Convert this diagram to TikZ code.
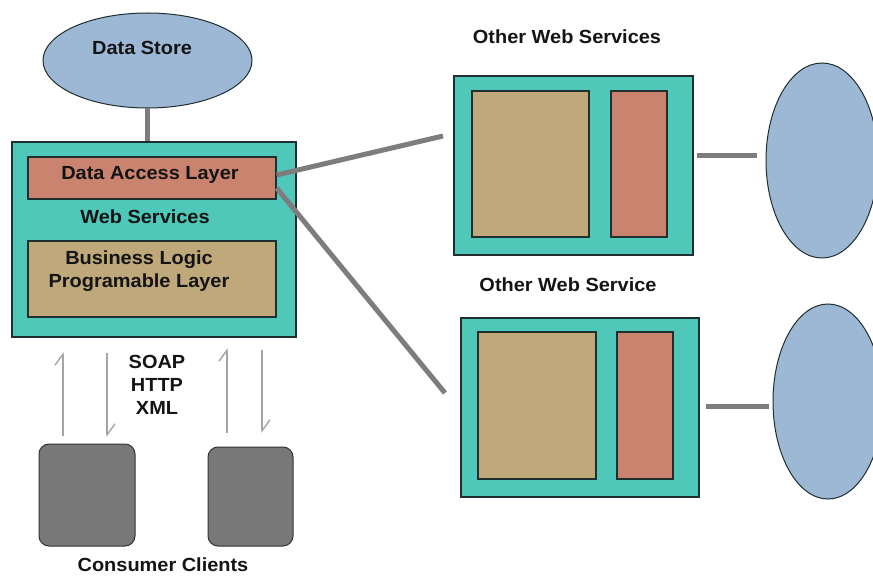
\documentclass[tikz,border=0pt]{standalone}
\usepackage{fontspec}
\newfontfamily\lblfont{Liberation Sans}[FakeStretch=1.05]
\usetikzlibrary{shapes.geometric,arrows.meta}
\definecolor{teal}{HTML}{4FC7B9}
\definecolor{tan}{HTML}{BFA97B}
\definecolor{salmon}{HTML}{C9836F}
\definecolor{skyblue}{HTML}{9CB8D5}
\definecolor{clientgray}{HTML}{787878}
\definecolor{linkgray}{HTML}{7D7D7D}
\definecolor{msggray}{HTML}{A4A4A4}
\definecolor{edge}{HTML}{1F2F2F}
\tikzset{
  txt/.style={inner sep=0pt, text=black!92, align=center,
    font=\lblfont\bfseries\fontsize{19}{23}\selectfont},
  box/.style={rectangle, draw=edge, line width=1.2pt, inner sep=0pt},
  service/.style={box, fill=teal},
  logic/.style={box, fill=tan},
  access/.style={box, fill=salmon},
  store/.style={ellipse, draw=edge, line width=1pt, fill=skyblue, inner sep=0pt},
  client/.style={rectangle, rounded corners=10pt, draw=black!80, line width=1pt,
    fill=clientgray, inner sep=0pt},
  link/.style={draw=linkgray, line width=5pt},
  msg/.style={draw=msggray, line width=1.4pt,
    -{Straight Barb[harpoon, length=11pt, width=16pt]}},
}
\begin{document}
\begin{tikzpicture}[x=1pt, y=-1pt]
\useasboundingbox (0,0) rectangle (873,577);
\clip (0,0) rectangle (873,577);

% main web service with its data store
\node[store, minimum width=209pt, minimum height=95pt] (ds) at (147.5,60.5) {};
\node[txt] (dslbl) at (142,48) {Data Store};
\node[service, minimum width=284pt, minimum height=195pt] (ws) at (154,239.5) {};
\node[access, minimum width=248pt, minimum height=42pt] (dal) at (152,178) {};
\node[txt] (dallbl) at (150,175) {Data Access Layer};
\node[txt] (wslbl) at (145,217) {Web Services};
\node[logic, minimum width=248pt, minimum height=76pt] (bl) at (152,279) {};
\node[txt] (bllbl) at (139,271.5) {Business Logic\\Programable Layer};
\draw[link] (ds.south) -- (ws.north -| ds.south);

% consumer clients and their messages
\node[client, minimum width=96pt, minimum height=102pt] (c1) at (87,495) {};
\node[client, minimum width=85pt, minimum height=99pt] (c2) at (250.5,496.5) {};
\node[txt] (cclbl) at (163,565) {Consumer Clients};
\node[txt] (proto) at (157,384.5) {SOAP\\HTTP\\XML};

\coordinate (u1a) at (63,436);  \coordinate (u1b) at (63,352);
\coordinate (d1a) at (107,353); \coordinate (d1b) at (107,437);
\coordinate (u2a) at (227,433); \coordinate (u2b) at (227,348);
\coordinate (d2a) at (262,350); \coordinate (d2b) at (262,433);
\draw[msg] (u1a) -- (u1b);
\draw[msg] (d1a) -- (d1b);
\draw[msg] (u2a) -- (u2b);
\draw[msg] (d2a) -- (d2b);

% links to the other web services
\coordinate (toA) at (443,136);
\coordinate (toB) at (445,393);
\draw[link] (dal.east |- 0,175) -- (toA);
\draw[link] (dal.east |- 0,188) -- (toB);

% other web services (upper)
\node[txt] (owsA) at (567,37) {Other Web Services};
\node[service, minimum width=239pt, minimum height=179pt] (sA) at (573.5,165.5) {};
\node[logic, minimum width=117pt, minimum height=146pt] (lA) at (530.5,164) {};
\node[access, minimum width=56pt, minimum height=146pt] (aA) at (639,164) {};
\node[store, minimum width=112pt, minimum height=195pt] (eA) at (822,160.5) {};
\draw[link] ([xshift=3pt]sA.east |- 0,156) -- ([xshift=-9pt]eA.west |- 0,156);

% other web service (lower)
\node[txt] (owsB) at (568,285) {Other Web Service};
\node[service, minimum width=238pt, minimum height=179pt] (sB) at (580,407.5) {};
\node[logic, minimum width=118pt, minimum height=147pt] (lB) at (537,405.5) {};
\node[access, minimum width=56pt, minimum height=147pt] (aB) at (645,405.5) {};
\node[store, minimum width=110pt, minimum height=195pt] (eB) at (828,401.5) {};
\draw[link] ([xshift=6pt]sB.east |- 0,406) -- ([xshift=-4pt]eB.west |- 0,406);
\end{tikzpicture}
\end{document}
